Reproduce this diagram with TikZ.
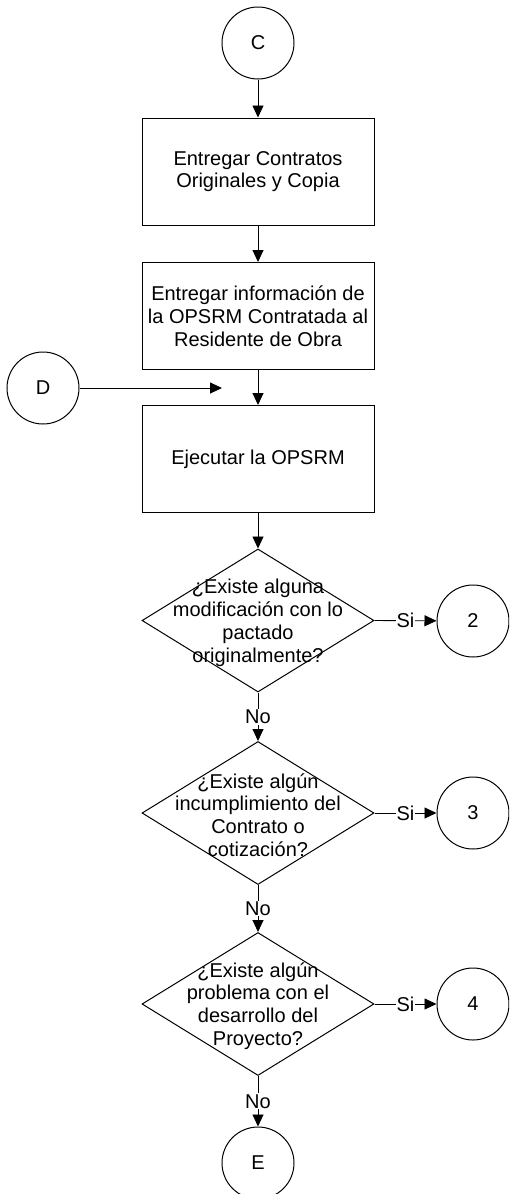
\documentclass[tikz,border=0pt]{standalone}
\usepackage{fontspec}
\setmainfont{Liberation Sans}
\usetikzlibrary{shapes.geometric,arrows.meta}
\begin{document}
\begin{tikzpicture}[x=1pt,y=-1pt,
  every node/.style={font=\fontsize{20}{22.8}\selectfont, text=black},
  proc/.style={draw=black, line width=1pt, rectangle, minimum width=232pt, minimum height=107pt, align=center, inner sep=0pt},
  decision/.style={draw=black, line width=1pt, diamond, minimum width=232pt, minimum height=143pt, inner sep=0pt},
  qtext/.style={align=center, inner sep=0pt},
  conn/.style={draw=black, line width=1pt, circle, minimum size=72pt, inner sep=0pt},
  flow/.style={draw=black, line width=0.9pt, -{Triangle[length=12pt,width=11pt]}},
  tag/.style={fill=white, inner sep=1pt}
]
\useasboundingbox (0,0) rectangle (509,1194);
\clip (0,0) rectangle (509,1194);

% connectors (off-page references)
\node[conn] (C) at (258,43) {C};
\node[conn] (D) at (43,388) {D};
\node[conn] (E) at (258,1163) {E};
\node[conn] (k2) at (473,621) {2};
\node[conn] (k3) at (473,813) {3};
\node[conn] (k4) at (473,1004) {4};

% process steps
\node[proc] (b1) at (258,171.5) {Entregar Contratos\\Originales y Copia};
\node[proc] (b2) at (258,316) {Entregar información de\\la OPSRM Contratada al\\Residente de Obra};
\node[proc] (b3) at (258,459) {Ejecutar la OPSRM};

% decisions
\node[decision] (q1) at (258,620.5) {};
\node[qtext] (q1t) at (258,623) {¿Existe alguna\\modificación con lo\\pactado\\originalmente?};
\node[decision] (q2) at (258,813) {};
\node[qtext] (q2t) at (258,815) {¿Existe algún\\incumplimiento del\\Contrato o\\cotización?};
\node[decision] (q3) at (258,1004) {};
\node[qtext] (q3t) at (258,1006) {¿Existe algún\\problema con el\\desarrollo del\\Proyecto?};

% main flow
\draw[flow] (C) -- (b1);
\draw[flow] (b1) -- (b2);
\draw[flow] (b2) -- (b3);
\coordinate (dEnd) at (222,388);
\draw[flow] (D) -- (dEnd);
\draw[flow] (b3) -- (q1);
\draw[flow] (q1) -- node[tag] (n1) {No} (q2);
\draw[flow] (q2) -- node[tag] (n2) {No} (q3);
\draw[flow] (q3) -- node[tag] (n3) {No} (E);

% yes branches
\draw[flow] (q1.east) -- node[tag] (s1) {Si} (k2);
\draw[flow] (q2.east) -- node[tag] (s2) {Si} (k3);
\draw[flow] (q3.east) -- node[tag] (s3) {Si} (k4);
\end{tikzpicture}
\end{document}
